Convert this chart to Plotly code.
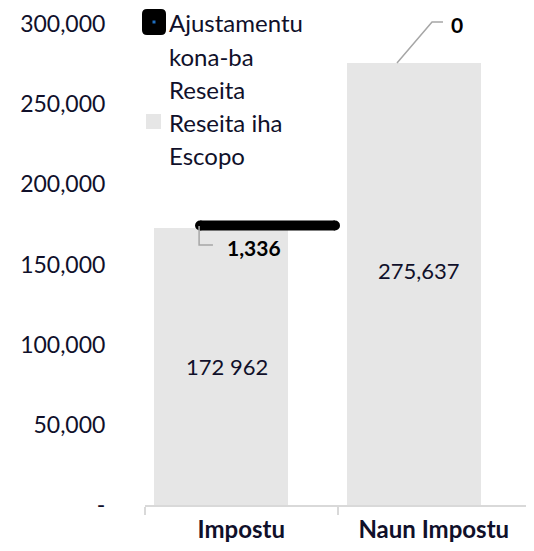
import plotly.graph_objects as go

# ---- data ----
categories = ["Impostu", "Naun Impostu"]
receita_escopo = [172962, 275637]
ajustamentu = [1336, 0]
bar_label_text = ["172 962", "275,637"]
bar_label_y = [86481, 146000]
ajust_label_text = ["1,336", "0"]
ytick_vals = [0, 50000, 100000, 150000, 200000, 250000, 300000]
ytick_text = ["-", "50,000", "100,000", "150,000", "200,000", "250,000", "300,000"]
legend_lines_1 = ["Ajustamentu", "kona-ba", "Reseita"]
legend_lines_2 = ["Reseita iha", "Escopo"]

FONT = "Lato, Carlito, Calibri, sans-serif"
TXT = "#10102a"
BAR = "#e6e6e6"
LEAD = "#a6a6a6"

OFF = 8  # page body margin
W, H = 534 - OFF, 551 - OFF
# plot area in window pixels: x 145..530, y 10..505
ML, MR, MT, MB = 145 - OFF, 4, 10 - OFF, 46
PW, PH = W - ML - MR, H - MT - MB
YMAX = 300000 * PH / 481.0

BAR_W = 0.696
BAR_OFF = -0.453

def px2paper(x, y):
    # window pixels -> paper coords
    x -= OFF
    y -= OFF
    return (x - ML) / PW, (H - MB - y) / PH

fig = go.Figure()

fig.add_trace(go.Bar(
    x=categories, y=receita_escopo, width=BAR_W, offset=BAR_OFF,
    marker=dict(color=BAR, line=dict(width=0)),
    name="Reseita iha Escopo", showlegend=False, hoverinfo="y",
))

# adjustment line (thick black with round caps)
adj_level = receita_escopo[0] + ajustamentu[0]
adj_x = [-0.214, 0.487]
fig.add_trace(go.Scatter(
    x=adj_x, y=[adj_level, adj_level], xaxis="x2", mode="lines+markers",
    line=dict(color="black", width=10),
    marker=dict(color="black", size=10, symbol="circle"),
    name="Ajustamentu kona-ba Reseita", showlegend=False, hoverinfo="skip",
))

annotations = []
shapes = []

# bar value labels
for i, (t, yv) in enumerate(zip(bar_label_text, bar_label_y)):
    annotations.append(dict(
        x=i + BAR_OFF + BAR_W / 2 + 0.03, y=yv, xref="x2", yref="y", text=t,
        showarrow=False, font=dict(family=FONT, size=22, color=TXT),
    ))

# adjustment labels with leader lines
annotations.append(dict(
    x=0.066, y=160900, xref="x2", yref="y", text="<b>%s</b>" % ajust_label_text[0],
    showarrow=False, font=dict(family=FONT, size=21, color="black"),
))
shapes.append(dict(
    type="path", xref="x2", yref="y",
    path="M -0.219,174000 L -0.219,162160 L -0.147,162160",
    line=dict(color=LEAD, width=1.5),
))
annotations.append(dict(
    x=1.121, y=299400, xref="x2", yref="y", text="<b>%s</b>" % ajust_label_text[1],
    showarrow=False, font=dict(family=FONT, size=21, color="black"),
))
shapes.append(dict(
    type="path", xref="x2", yref="y",
    path="M 0.809,%d L 0.991,301250 L 1.048,301250" % receita_escopo[1],
    line=dict(color=LEAD, width=1.5),
))

# manual legend
lx = 167
for k, line in enumerate(legend_lines_1):
    px, py = px2paper(lx, 23 + 33 * k)
    annotations.append(dict(x=px, y=py, xref="paper", yref="paper", text=line,
                            xanchor="left", yanchor="middle", showarrow=False,
                            font=dict(family=FONT, size=24, color=TXT)))
for k, line in enumerate(legend_lines_2):
    px, py = px2paper(lx, 122 + 33 * k)
    annotations.append(dict(x=px, y=py, xref="paper", yref="paper", text=line,
                            xanchor="left", yanchor="middle", showarrow=False,
                            font=dict(family=FONT, size=24, color=TXT)))

# legend swatch 1: rounded black square with blue dot
x0, y0 = px2paper(142, 35)
x1, y1 = px2paper(166, 9)
rx = 5 / PW
ry = 5 / PH
shapes.append(dict(
    type="path", xref="paper", yref="paper", fillcolor="black", line=dict(width=0),
    path=(f"M {x0+rx},{y0} L {x1-rx},{y0} Q {x1},{y0} {x1},{y0+ry} "
          f"L {x1},{y1-ry} Q {x1},{y1} {x1-rx},{y1} L {x0+rx},{y1} "
          f"Q {x0},{y1} {x0},{y1-ry} L {x0},{y0+ry} Q {x0},{y0} {x0+rx},{y0} Z"),
))
cx0, cy0 = px2paper(152.5, 23.5)
cx1, cy1 = px2paper(155.5, 20.5)
shapes.append(dict(type="rect", xref="paper", yref="paper", x0=cx0, y0=cy0, x1=cx1, y1=cy1,
                   fillcolor="#1f6fc0", line=dict(width=0)))
gx0, gy0 = px2paper(146, 129)
gx1, gy1 = px2paper(161, 114)
shapes.append(dict(type="rect", xref="paper", yref="paper", x0=gx0, y0=gy0, x1=gx1, y1=gy1,
                   fillcolor=BAR, line=dict(width=0)))

fig.update_layout(
    width=W, height=H,
    margin=dict(l=ML, r=MR, t=MT, b=MB),
    plot_bgcolor="white", paper_bgcolor="white",
    showlegend=False,
    font=dict(family=FONT, color=TXT),
    xaxis=dict(
        type="category", range=[-0.5, 1.5], tickson="boundaries",
        ticks="outside", ticklen=8, tickcolor="#d9d9d9", tickwidth=1.5,
        showline=True, linecolor="#d9d9d9", linewidth=1.5,
        showgrid=False, zeroline=False,
        tickvals=categories, ticktext=["<b>%s</b>" % c for c in categories],
        tickfont=dict(family=FONT, size=24, color=TXT),
        ticklabelstandoff=2,
    ),
    xaxis2=dict(overlaying="x", range=[-0.5, 1.5], visible=False, showgrid=False),
    yaxis=dict(
        range=[0, YMAX], tickvals=ytick_vals, ticktext=ytick_text,
        ticks="outside", ticklen=34, tickcolor="rgba(0,0,0,0)",
        showgrid=False, zeroline=False, showline=False,
        tickfont=dict(family=FONT, size=23, color=TXT),
    ),
    annotations=annotations, shapes=shapes,
    bargap=0,
)

fig.write_html("out.html")
